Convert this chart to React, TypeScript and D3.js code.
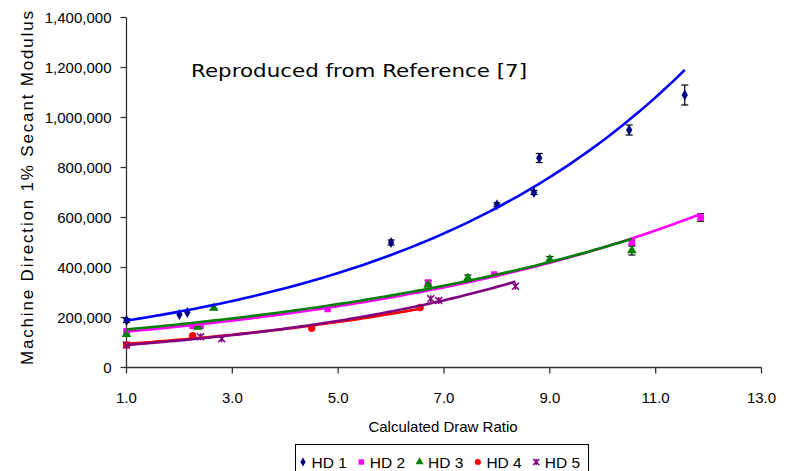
import * as d3 from "d3";
import React from "react";

// series values
const hd1X = [1.0, 2.0, 2.15, 6.0, 8.0, 8.7, 8.8, 10.5, 11.55];
const hd1Y = [188000, 212000, 220000, 500000, 651000, 700000, 838000, 950000, 1090000];
const hd1Err = [8000, 0, 0, 10000, 8000, 8000, 18000, 20000, 40000];

const hd2X = [1.0, 2.25, 2.4, 4.8, 6.7, 7.95, 10.55, 11.85];
const hd2Y = [145000, 167000, 167000, 234000, 340000, 372000, 500000, 600000];
const hd2Err = [0, 0, 0, 0, 8000, 0, 10000, 15000];

const hd3X = [1.0, 2.35, 2.65, 6.7, 7.45, 9.0, 10.55];
const hd3Y = [133000, 162000, 238000, 330000, 358000, 432000, 468000];
const hd3Err = [0, 0, 0, 0, 12000, 12000, 18000];

const hd4X = [1.0, 2.25, 4.5, 6.55];
const hd4Y = [90000, 127000, 157000, 240000];
const hd4Err = [0, 0, 0, 0];

const hd5X = [1.0, 2.4, 2.8, 6.75, 6.9, 8.35];
const hd5Y = [90000, 123000, 115000, 275000, 268000, 325000];
const hd5Err = [0, 0, 0, 0, 0, 0];

const seriesNames = ["HD 1", "HD 2", "HD 3", "HD 4", "HD 5"];
const xTicks = [1, 3, 5, 7, 9, 11, 13];
const yTicks = [0, 200000, 400000, 600000, 800000, 1000000, 1200000, 1400000];

type Marker = "diamond" | "square" | "triangle" | "circle" | "star";

interface Series {
    name: string;
    xs: number[];
    ys: number[];
    errs: number[];
    marker: Marker;
    markerColor: string;
    lineColor: string;
}

const series: Series[] = [
    { name: seriesNames[0], xs: hd1X, ys: hd1Y, errs: hd1Err, marker: "diamond", markerColor: "#000080", lineColor: "#0000ff" },
    { name: seriesNames[1], xs: hd2X, ys: hd2Y, errs: hd2Err, marker: "square", markerColor: "#ff00ff", lineColor: "#ff00ff" },
    { name: seriesNames[2], xs: hd3X, ys: hd3Y, errs: hd3Err, marker: "triangle", markerColor: "#008000", lineColor: "#008000" },
    { name: seriesNames[3], xs: hd4X, ys: hd4Y, errs: hd4Err, marker: "circle", markerColor: "#ff0000", lineColor: "#ff0000" },
    { name: seriesNames[4], xs: hd5X, ys: hd5Y, errs: hd5Err, marker: "star", markerColor: "#800080", lineColor: "#800080" },
];

// exponential trendline, least squares on ln(y) like the spreadsheet does
function expFit(xs: number[], ys: number[]) {
    const ls = ys.map((v) => Math.log(v));
    const mx = d3.mean(xs) as number;
    const ml = d3.mean(ls) as number;
    let sxy = 0;
    let sxx = 0;
    xs.forEach((x, i) => {
        sxy += (x - mx) * (ls[i] - ml);
        sxx += (x - mx) * (x - mx);
    });
    const b = sxy / sxx;
    const a = Math.exp(ml - b * mx);
    return (x: number) => a * Math.exp(b * x);
}

const W = 795;
const H = 471;
const FONT = "Arial, 'Liberation Sans', sans-serif";

const x = d3.scaleLinear().domain([1, 13]).range([126.5, 761.5]);
const y = d3.scaleLinear().domain([0, 1400000]).range([367.5, 17.5]);

function markerPath(m: Marker, size: number): string {
    if (m === "star") {
        const r = Math.sqrt(size) / 2 + 0.5;
        return `M${-r},${-r}L${r},${r}M${-r},${r}L${r},${-r}M0,${-r}L0,${r}`;
    }
    const type =
        m === "diamond"
            ? d3.symbolDiamond
            : m === "square"
            ? d3.symbolSquare
            : m === "triangle"
            ? d3.symbolTriangle
            : d3.symbolCircle;
    return d3.symbol().type(type).size(size)() as string;
}

function MarkerShape({ m, color, size }: { m: Marker; color: string; size: number }) {
    if (m === "star") {
        return <path d={markerPath(m, size)} stroke={color} strokeWidth={1.6} fill="none" />;
    }
    return <path d={markerPath(m, size)} fill={color} />;
}

const markerSize: Record<Marker, number> = {
    diamond: 34,
    square: 42,
    triangle: 40,
    circle: 42,
    star: 36,
};

// legend entries: marker centre, text start
const legendPitch = 58.3;
const legendX0 = 303;

export default function App() {
    const fmt = d3.format(",");
    const line = d3
        .line<[number, number]>()
        .x((d) => x(d[0]))
        .y((d) => y(d[1]));

    return (
        <svg
            width={W}
            height={H}
            style={{ position: "absolute", left: 0, top: 0, background: "#fff" }}
            fontFamily={FONT}
        >
            <rect width={W} height={H} fill="#fff" />

            {/* axes */}
            <line x1={x(1)} x2={x(1)} y1={y(1400000)} y2={y(0)} stroke="#333" strokeWidth={1.3} />
            <line x1={x(1)} x2={x(13)} y1={y(0)} y2={y(0)} stroke="#333" strokeWidth={1.3} />
            {yTicks.map((t) => (
                <g key={"y" + t}>
                    <line x1={x(1) - 6} x2={x(1)} y1={y(t)} y2={y(t)} stroke="#333" strokeWidth={1.3} />
                    <text x={x(1) - 15} y={y(t)} dy="0.36em" textAnchor="end" fontSize={15} fill="#000">
                        {fmt(t)}
                    </text>
                </g>
            ))}
            {xTicks.map((t) => (
                <g key={"x" + t}>
                    <line x1={x(t)} x2={x(t)} y1={y(0)} y2={y(0) + 6} stroke="#333" strokeWidth={1.3} />
                    <text x={x(t)} y={y(0) + 35} textAnchor="middle" fontSize={15} fill="#000">
                        {t.toFixed(1)}
                    </text>
                </g>
            ))}

            <text x={443} y={432} textAnchor="middle" fontSize={15} fill="#000">
                Calculated Draw Ratio
            </text>
            <text
                transform="translate(33,365) rotate(-90)"
                fontSize={17}
                fill="#000"
                textLength={354}
                lengthAdjust="spacing"
            >
                Machine Direction 1% Secant Modulus
            </text>

            <text
                x={191}
                y={77}
                fontSize={17}
                fontFamily="'DejaVu Sans', Verdana, sans-serif"
                fill="#000"
                textLength={336}
                lengthAdjust="spacingAndGlyphs"
            >
                Reproduced from Reference [7]
            </text>

            {/* error bars */}
            {series.map((s) =>
                s.xs.map((xv, i) =>
                    s.errs[i] > 0 ? (
                        <g key={s.name + "e" + i} stroke="#000" strokeWidth={1.2}>
                            <line x1={x(xv)} x2={x(xv)} y1={y(s.ys[i] - s.errs[i])} y2={y(s.ys[i] + s.errs[i])} />
                            <line x1={x(xv) - 3.5} x2={x(xv) + 3.5} y1={y(s.ys[i] - s.errs[i])} y2={y(s.ys[i] - s.errs[i])} />
                            <line x1={x(xv) - 3.5} x2={x(xv) + 3.5} y1={y(s.ys[i] + s.errs[i])} y2={y(s.ys[i] + s.errs[i])} />
                        </g>
                    ) : null
                )
            )}

            {/* markers */}
            {series.map((s) =>
                s.xs.map((xv, i) => (
                    <g key={s.name + "m" + i} transform={`translate(${x(xv)},${y(s.ys[i])})`}>
                        <MarkerShape m={s.marker} color={s.markerColor} size={markerSize[s.marker]} />
                    </g>
                ))
            )}

            {/* trendlines */}
            {series.map((s) => {
                const f = expFit(s.xs, s.ys);
                const [lo, hi] = d3.extent(s.xs) as [number, number];
                const pts: [number, number][] = d3
                    .range(0, 81)
                    .map((k) => lo + ((hi - lo) * k) / 80)
                    .map((xv) => [xv, f(xv)]);
                return (
                    <path
                        key={s.name + "t"}
                        d={line(pts) as string}
                        fill="none"
                        stroke={s.lineColor}
                        strokeWidth={2.6}
                    />
                );
            })}

            {/* legend */}
            <rect x={295.5} y={444.5} width={293} height={40} fill="#fff" stroke="#000" strokeWidth={1} />
            {series.map((s, i) => {
                const mx = legendX0 + i * legendPitch;
                return (
                    <g key={s.name + "l"}>
                        <g transform={`translate(${mx},462)`}>
                            <MarkerShape m={s.marker} color={s.markerColor} size={markerSize[s.marker] * 0.7} />
                        </g>
                        <text x={mx + 8.5} y={468} fontSize={15.5} fill="#000">
                            {s.name}
                        </text>
                    </g>
                );
            })}
        </svg>
    );
}
